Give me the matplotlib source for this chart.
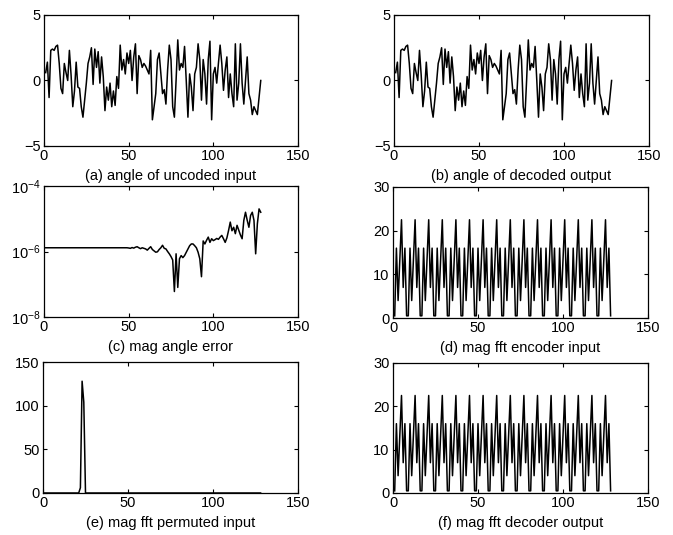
import numpy as np
import matplotlib
matplotlib.use("Agg")
import matplotlib.pyplot as plt
from matplotlib.ticker import LogFormatterMathtext, NullLocator

plt.rcParams['font.family'] = ['Liberation Sans', 'DejaVu Sans']
plt.rcParams['mathtext.fontset'] = 'custom'
plt.rcParams['mathtext.rm'] = 'Liberation Sans'
plt.rcParams['mathtext.default'] = 'regular'

# angulo de la entrada sin codificar (igual a la salida decodificada)
angle_input = [
    0.6, 1.4, -1.3, 2.3, 2.4, 2.3, 2.6, 2.7, 1.3, -0.6, -1.0, 1.3, 0.6, 0.0, 2.3, 0.4,
    -2.0, -0.8, 1.4, -0.5, -0.6, -2.0, -2.8, -1.5, -0.2, 1.3, 1.8, 2.5, -0.3, 2.4, 1.0, 2.2,
    -0.2, 1.8, 0.3, -2.3, -0.5, -1.5, -0.2, -2.0, -0.8, -1.9, 0.3, -0.6, 2.7, 0.8, 1.6, 0.5,
    2.1, 1.3, 2.3, 0.0, 1.8, 2.8, -1.0, 1.9, 1.6, 1.0, 1.3, 1.1, 0.8, 0.5, 2.3, -3.0,
    -2.0, -1.0, 1.6, 2.1, 0.5, -1.0, -0.7, -1.8, 0.8, 2.7, 1.6, -2.0, -2.8, 0.0, 3.1, 0.8,
    1.3, 1.0, 2.6, 0.0, -2.8, 0.5, -0.5, -2.3, 0.5, 1.0, 2.8, 1.6, -1.5, 1.6, 0.5, -1.8,
    1.6, 3.0, -3.0, 0.5, 1.0, -0.2, 1.3, 2.7, 1.3, -0.75, 0.8, 1.8, -1.3, 0.5, -1.0, -2.0,
    2.8, -1.5, -0.2, 2.8, -0.2, -1.8, 0.0, 1.8, -1.0, -1.5, -2.6, -2.0, -2.3, -2.6, -1.3, 0.0,
]
angle_output = list(angle_input)

# error del angulo (en unidades de 1e-6)
angle_error_e6 = [
    1.3, 1.3, 1.3, 1.3, 1.3, 1.3, 1.3, 1.3, 1.3, 1.3, 1.3, 1.3, 1.3, 1.3, 1.3, 1.3,
    1.3, 1.3, 1.3, 1.3, 1.3, 1.3, 1.3, 1.3, 1.3, 1.3, 1.3, 1.3, 1.3, 1.3, 1.3, 1.3,
    1.3, 1.3, 1.3, 1.3, 1.3, 1.3, 1.3, 1.3, 1.3, 1.3, 1.3, 1.3, 1.3, 1.3, 1.3, 1.3,
    1.30, 1.28, 1.25, 1.32, 1.27, 1.35, 1.40, 1.30, 1.22, 1.30, 1.25, 1.20, 1.10, 1.25, 1.40, 1.15,
    1.05, 0.95, 0.98, 1.15, 1.30, 1.55, 1.25, 1.20, 1.00, 0.85, 0.70, 0.55, 0.06, 0.85, 0.08, 0.60,
    0.75, 0.65, 0.75, 0.95, 1.20, 1.50, 1.70, 1.70, 1.50, 1.30, 0.95, 0.60, 0.17, 2.10, 1.70, 2.20,
    2.75, 1.90, 2.45, 2.15, 2.30, 2.50, 2.35, 2.75, 3.10, 2.45, 1.90, 2.60, 4.40, 7.90, 4.30, 5.50,
    3.50, 6.30, 4.50, 3.20, 2.45, 8.90, 15.8, 9.00, 5.50, 12.6, 15.8, 8.90, 0.85, 7.00, 20.0, 15.8,
]

# magnitud fft de la entrada del codificador (igual a la salida del decodificador)
fft_encoder = [
    0.5, 16, 4, 13, 22.5, 7, 16, 0.5,
    0.5, 16, 4, 13, 22.5, 7, 16, 0.5,
    0.5, 16, 4, 13, 22.5, 7, 16, 0.5,
    0.5, 16, 4, 13, 22.5, 7, 16, 0.5,
    0.5, 16, 4, 13, 22.5, 7, 16, 0.5,
    0.5, 16, 4, 13, 22.5, 7, 16, 0.5,
    0.5, 16, 4, 13, 22.5, 7, 16, 0.5,
    0.5, 16, 4, 13, 22.5, 7, 16, 0.5,
    0.5, 16, 4, 13, 22.5, 7, 16, 0.5,
    0.5, 16, 4, 13, 22.5, 7, 16, 0.5,
    0.5, 16, 4, 13, 22.5, 7, 16, 0.5,
    0.5, 16, 4, 13, 22.5, 7, 16, 0.5,
    0.5, 16, 4, 13, 22.5, 7, 16, 0.5,
    0.5, 16, 4, 13, 22.5, 7, 16, 0.5,
    0.5, 16, 4, 13, 22.5, 7, 16, 0.5,
    0.5, 16, 4, 13, 22.5, 7, 16, 0.5,
]
fft_decoder = list(fft_encoder)

# magnitud fft de la entrada permutada: casi todo cero salvo un pico
perm_peak_idx = [22, 23, 24]
perm_peak_val = [6, 128, 104]

captions = [
    "(a) angle of uncoded input",
    "(b) angle of decoded output",
    "(c) mag angle error",
    "(d) mag fft encoder input",
    "(e) mag fft permuted input",
    "(f) mag fft decoder output",
]

n = np.arange(1, 129)
fft_perm = np.zeros(128)
for i, v in zip(perm_peak_idx, perm_peak_val):
    fft_perm[i - 1] = v

fig = plt.figure(figsize=(6.73, 5.35), dpi=100)
W, H = 673, 535

def crear_ejes(left, top, right, bottom):
    return fig.add_axes([left / W, 1 - bottom / H, (right - left) / W, (bottom - top) / H])

ax_a = crear_ejes(44, 15, 298, 146)
ax_b = crear_ejes(394, 15, 649, 146)
ax_c = crear_ejes(44, 186, 298, 317)
ax_d = crear_ejes(393, 187, 648, 318)
ax_e = crear_ejes(43, 362, 298, 493)
ax_f = crear_ejes(393, 363, 648, 493)

ax_a.plot(n, angle_input, color='black', lw=1.1)
ax_b.plot(n, angle_output, color='black', lw=1.1)
ax_c.semilogy(n, np.array(angle_error_e6) * 1e-6, color='black', lw=1.1)
ax_d.plot(n, fft_encoder, color='black', lw=1.1)
ax_e.plot(n, fft_perm, color='black', lw=1.1)
ax_f.plot(n, fft_decoder, color='black', lw=1.1)

for ax in (ax_a, ax_b):
    ax.set_ylim(-5, 5)
    ax.set_yticks([-5, 0, 5])
ax_c.set_ylim(1e-8, 1e-4)
ax_c.set_yticks([1e-8, 1e-6, 1e-4])
ax_c.yaxis.set_major_formatter(LogFormatterMathtext())
ax_c.yaxis.set_minor_locator(NullLocator())
for ax in (ax_d, ax_f):
    ax.set_ylim(0, 30)
    ax.set_yticks([0, 10, 20, 30])
ax_e.set_ylim(0, 150)
ax_e.set_yticks([0, 50, 100, 150])

for ax, cap in zip((ax_a, ax_b, ax_c, ax_d, ax_e, ax_f), captions):
    ax.set_xlim(0, 150)
    ax.set_xticks([0, 50, 100, 150])
    ax.tick_params(direction='in', length=3, width=0.8, top=True, right=True,
                   labelsize=10.5, pad=2.5)
    ax.set_xlabel(cap, fontsize=10.5, labelpad=4)
    for s in ax.spines.values():
        s.set_linewidth(0.9)

fig.savefig("out.png", dpi=100)
